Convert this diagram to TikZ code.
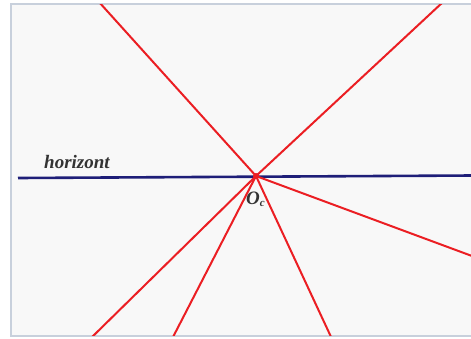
\documentclass[tikz,border=0pt]{standalone}
\usepackage{fontspec}
\setmainfont{Liberation Serif}
\definecolor{bgc}{RGB}{248,248,248}
\definecolor{framec}{RGB}{200,208,220}
\definecolor{rayc}{RGB}{235,30,35}
\definecolor{horc}{RGB}{30,30,120}
\begin{document}
\begin{tikzpicture}[x=1pt,y=-1pt,
  ray/.style={draw=rayc, line width=2pt},
  hor/.style={draw=horc, line width=2.6pt},
  lbl/.style={font=\bfseries\itshape\fontsize{19}{19}\selectfont, text=black!80, inner sep=0pt}]
\useasboundingbox (0,0) rectangle (471,338);
\fill[white] (0,0) rectangle (471,338);
\fill[bgc] (11,4) rectangle (475,336);
\draw[draw=framec, line width=1.5pt] (475,4) -- (11,4) -- (11,336) -- (475,336);
\coordinate (O) at (256,176);
\coordinate (hl) at (18,178);
\coordinate (hr) at (472,175.5);
\coordinate (a) at (99,2);
\coordinate (b) at (443,2);
\coordinate (c) at (472,256);
\coordinate (d) at (90,339);
\coordinate (e) at (172,339);
\coordinate (f) at (332,339);
\begin{scope}
\clip (11,4) rectangle (471,335.5);
\draw[hor] (hl) -- (hr);
\foreach \p in {a,b,c,d,e,f} \draw[ray] (O) -- (\p);
\end{scope}
\fill[rayc] (O) circle (3pt);
\node[lbl, anchor=base west] (h) at (44,168) {horizont};
\node[lbl, anchor=base west] (oc) at (246,204) {O\textsubscript{\fontsize{11}{11}\selectfont c}};
\end{tikzpicture}
\end{document}
